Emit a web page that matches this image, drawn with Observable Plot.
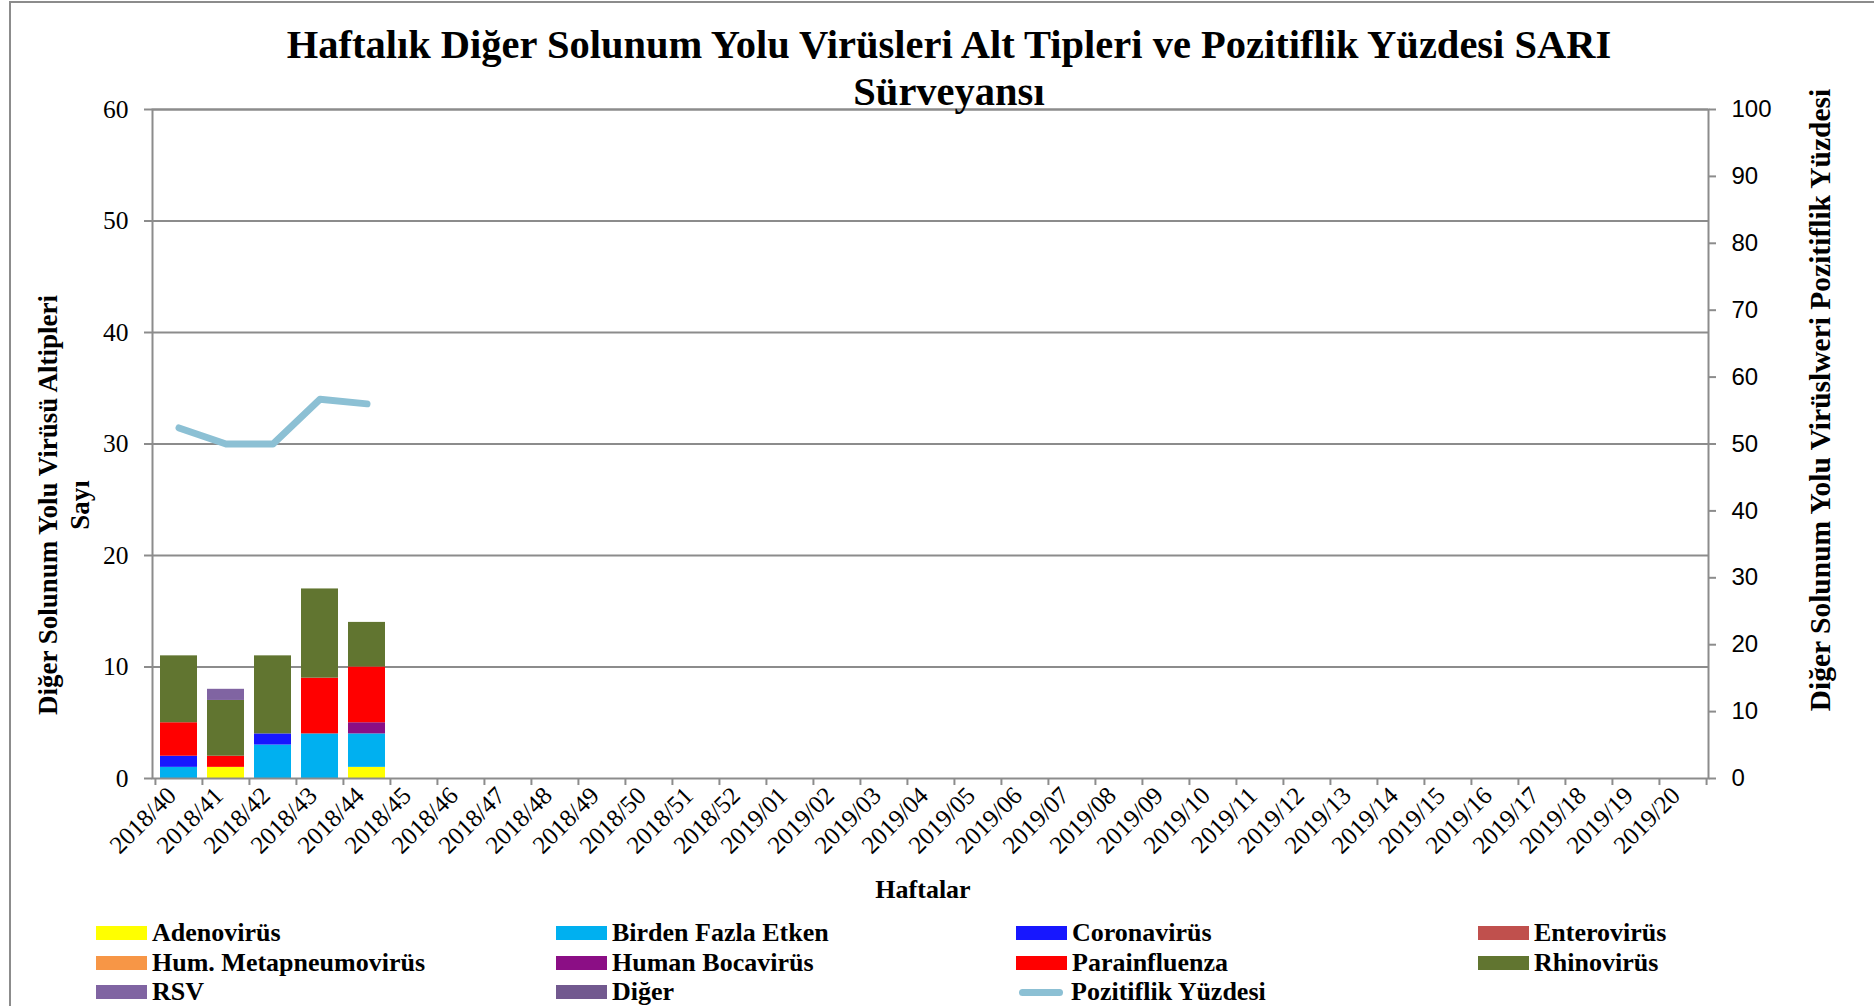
<!DOCTYPE html>
<html><head><meta charset="utf-8">
<script src="https://cdn.jsdelivr.net/npm/d3@7"></script>
<script src="https://cdn.jsdelivr.net/npm/@observablehq/plot@0.6"></script>
<style>
body{margin:0;background:#fff;}
#wrap{position:relative;width:1874px;height:1006px;overflow:hidden;font-family:"Liberation Serif","Times New Roman",serif;color:#000;}
#frame{position:absolute;left:9px;top:1px;width:1900px;height:1100px;border:2px solid #8c8c8c;box-sizing:border-box;}
#title{position:absolute;left:0;top:21px;width:1898px;text-align:center;font-weight:bold;font-size:40.5px;line-height:47px;}
#chart{position:absolute;left:0;top:0;}
.ytitle{position:absolute;font-weight:bold;line-height:32px;text-align:center;transform:rotate(-90deg);transform-origin:center;white-space:nowrap;}
#xtitle{position:absolute;left:823px;width:200px;top:874px;text-align:center;font-weight:bold;font-size:26px;line-height:32px;}
.leg{position:absolute;height:30px;display:flex;align-items:center;font-weight:bold;font-size:26px;white-space:nowrap;}
.sw{width:51px;height:14px;margin-right:5px;flex:none;}
.swl{width:44px;height:7px;border-radius:4px;margin:0 8px 0 3px;flex:none;}
</style></head>
<body>
<div id="wrap">
  <div id="frame"></div>
  <div id="chart"></div>
  <div id="title">Haftalık Diğer Solunum Yolu Virüsleri Alt Tipleri ve Pozitiflik Yüzdesi SARI<br>Sürveyansı</div>
  <div class="ytitle" id="yl" style="left:-186px;top:473px;width:500px;height:64px;font-size:27px;">Diğer Solunum Yolu Virüsü Altipleri<br>Sayı</div>
  <div class="ytitle" id="yr" style="left:1470px;top:384px;width:700px;height:32px;font-size:29.5px;">Diğer Solunum Yolu Virüslweri Pozitiflik Yüzdesi</div>
  <div id="xtitle">Haftalar</div>
  <div id="legend"></div>
</div>
<script>
const weeks = ["2018/40","2018/41","2018/42","2018/43","2018/44","2018/45","2018/46","2018/47","2018/48","2018/49","2018/50","2018/51","2018/52",
  "2019/01","2019/02","2019/03","2019/04","2019/05","2019/06","2019/07","2019/08","2019/09","2019/10","2019/11","2019/12","2019/13","2019/14","2019/15","2019/16","2019/17","2019/18","2019/19","2019/20"];
const viruses = ["Adenovirüs","Birden Fazla Etken","Coronavirüs","Enterovirüs","Hum. Metapneumovirüs","Human Bocavirüs","Parainfluenza","Rhinovirüs","RSV","Diğer"];
const colors = ["#FFFF00","#00B0F0","#1717FF","#C0504D","#F79646","#8B0E85","#FF0000","#617530","#8064A2","#72598F"];
// values for the reported weeks (2018/40 .. 2018/44)
const adeno  = [0,1,0,0,1];
const birden = [1,0,3,4,3];
const corona = [1,0,1,0,0];
const entero = [0,0,0,0,0];
const hmpv   = [0,0,0,0,0];
const boca   = [0,0,0,0,1];
const para   = [3,1,0,5,5];
const rhino  = [6,5,7,8,4];
const rsv    = [0,1,0,0,0];
const diger  = [0,0,0,0,0];
const pozitiflik = [52.4,50,50,56.7,56];
const lineLabel = "Pozitiflik Yüzdesi";
const leftTicks = [0,10,20,30,40,50,60];
const rightTicks = [0,10,20,30,40,50,60,70,80,90,100];

const series = [adeno,birden,corona,entero,hmpv,boca,para,rhino,rsv,diger];
const rows = [];
series.forEach((s,i) => s.forEach((v,j) => { if (v > 0) rows.push({week: weeks[j], virus: viruses[i], value: v}); }));
const pct = pozitiflik.map((p,j) => ({week: weeks[j], pct: p}));
const k = 60/100; // right axis (0-100) onto left axis (0-60)

const W = 1874, H = 910, mL = 152, mR = 166, mT = 109, mB = 132;
const bw = (W - mL - mR) / weeks.length;
const grey = "#8c8c8c";
const serif = "'Liberation Serif','Times New Roman',serif";
const sans = "'Liberation Sans',Arial,sans-serif";

const chart = Plot.plot({
  width: W, height: H,
  marginLeft: mL, marginRight: mR, marginTop: mT, marginBottom: mB,
  style: {fontFamily: serif, color: "#000", background: "transparent", overflow: "visible"},
  x: {type: "band", domain: weeks, padding: 0, label: null},
  y: {domain: [0, 60], label: null},
  color: {domain: viruses, range: colors},
  marks: [
    Plot.gridY(leftTicks.slice(1), {stroke: grey, strokeOpacity: 1, strokeWidth: 2}),
    Plot.barY(rows, Plot.stackY({x: "week", y: "value", fill: "virus", order: viruses, insetLeft: 5, insetRight: 5})),
    Plot.frame({stroke: grey, strokeWidth: 2}),
    Plot.axisX({tickSize: 7, tickFormat: () => "", dx: -bw/2, stroke: grey, strokeWidth: 2, label: null}),
    Plot.axisX([weeks[weeks.length-1]], {tickSize: 7, tickFormat: () => "", dx: bw/2, stroke: grey, strokeWidth: 2, label: null}),
    Plot.axisX({tickSize: 0, tickRotate: -45, tickPadding: 8, dx: -7, dy: 5, fontSize: 25, fontFamily: serif, label: null}),
    Plot.axisY(leftTicks, {anchor: "left", tickSize: 8, tickPadding: 16, stroke: grey, strokeWidth: 2, fontSize: 25.5, fontFamily: serif, label: null}),
    Plot.axisY(rightTicks.map(v => v*k), {anchor: "right", tickSize: 7, tickPadding: 16, stroke: grey, strokeWidth: 2,
      fontSize: 24, fontFamily: sans, tickFormat: d => String(Math.round(d/k)), label: null}),
    Plot.line(pct, {x: "week", y: d => d.pct * k, stroke: "#8CC0D4", strokeWidth: 7, strokeLinecap: "round", strokeLinejoin: "round"})
  ]
});
// force fonts on tick labels (serif for left/bottom, sans for right axis)
d3.select(chart).selectAll("text").style("font-family", serif).style("fill", "#000");
d3.select(chart).selectAll("g").filter(function() { return this.getAttribute("text-anchor") === "start"; })
  .selectAll("text").style("font-family", sans);
document.getElementById("chart").appendChild(chart);

// legend
const leg = document.getElementById("legend");
const colX = [96, 556, 1016, 1478], rowY = [933, 963, 992];
const items = viruses.map((v,i) => ({label: v, color: colors[i], line: false})).concat([{label: lineLabel, color: "#8CC0D4", line: true}]);
items.forEach((it, i) => {
  const d = document.createElement("div");
  d.className = "leg";
  d.style.left = colX[i % 4] + "px";
  d.style.top = (rowY[Math.floor(i / 4)] - 15) + "px";
  const s = document.createElement("span");
  s.className = it.line ? "swl" : "sw";
  s.style.background = it.color;
  d.appendChild(s);
  d.appendChild(document.createTextNode(it.label));
  leg.appendChild(d);
});
</script>
</body></html>
